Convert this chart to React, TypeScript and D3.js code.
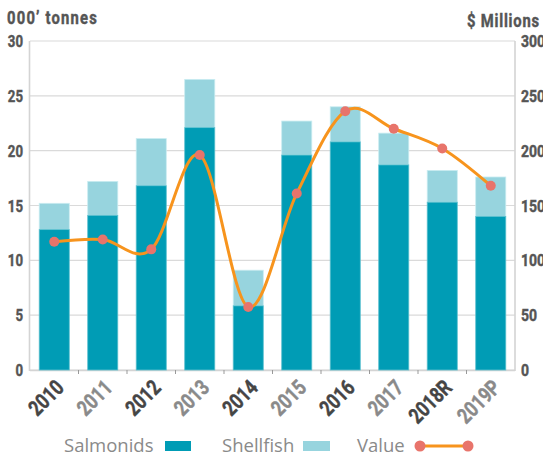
import * as d3 from "d3";
import React from "react";

const years = ["2010", "2011", "2012", "2013", "2014", "2015", "2016", "2017", "2018R", "2019P"];
const salmonids = [12.8, 14.1, 16.8, 22.1, 5.85, 19.6, 20.8, 18.7, 15.3, 14.0];
const totals = [15.2, 17.2, 21.1, 26.5, 9.1, 22.7, 24.0, 21.6, 18.2, 17.6];
const value = [117, 119, 110, 196, 57.5, 161, 236, 220, 202, 168];
const leftTicks = [0, 5, 10, 15, 20, 25, 30];
const rightTicks = [0, 50, 100, 150, 200, 250, 300];

const W = 543;
const H = 459;
const left = 30;
const right = 515;
const top = 41;
const bottom = 370;

const C_SALMON = "#009cb5";
const C_SHELL = "#97d4de";
const C_LINE = "#f7941d";
const C_DOT = "#e8746b";
const C_GRID = "#dadada";
const COND = "Roboto, 'Noto Sans', sans-serif";
const SANS = "'Open Sans', 'Noto Sans', sans-serif";

// condensed-looking text: Roboto squeezed horizontally
function CText(props: {
  x: number;
  y: number;
  rot?: number;
  sx?: number;
  size: number;
  anchor?: "start" | "end" | "middle";
  fill: string;
  children: React.ReactNode;
  ls?: number;
}) {
  const { x, y, rot = 0, sx = 0.78, size, anchor = "start", fill, children, ls = 0 } = props;
  return (
    <text
      transform={`translate(${x},${y}) rotate(${rot}) scale(${sx},1)`}
      textAnchor={anchor}
      fontFamily={COND}
      fontWeight="bold"
      fontSize={size}
      fill={fill}
      stroke={fill}
      strokeWidth={0.45}
      letterSpacing={ls}
    >
      {children}
    </text>
  );
}

export default function App() {
  const x = d3.scaleBand<string>().domain(years).range([left, right]).paddingInner(0.38).paddingOuter(0.19);
  const yL = d3.scaleLinear().domain([0, 30]).range([bottom, top]);
  const yR = d3.scaleLinear().domain([0, 300]).range([bottom, top]);
  const cx = (y: string) => x(y)! + x.bandwidth() / 2;
  const gap = (x.step() - x.bandwidth()) / 2;

  const line = d3
    .line<number>()
    .x((_, i) => cx(years[i]))
    .y((d) => yR(d))
    .curve(d3.curveCardinal.tension(0));

  return (
    <svg width={W} height={H} style={{ position: "absolute", left: 0, top: 0, background: "#fff" }}>
      {/* titles */}
      <CText x={7} y={24} size={18.5} fill="#555" sx={0.8} ls={1.5}>
        000’ tonnes
      </CText>
      <CText x={540} y={27} size={18.5} fill="#555" anchor="end" sx={0.8} ls={1}>
        $ Millions
      </CText>

      {/* grid */}
      {leftTicks.map((t) => (
        <line key={t} x1={left} x2={right} y1={yL(t)} y2={yL(t)} stroke={C_GRID} strokeWidth={1.2} />
      ))}
      <line x1={left - 0.5} x2={left - 0.5} y1={top} y2={bottom + 1} stroke="#d4d4d4" strokeWidth={1.6} />
      <line x1={right} x2={right} y1={top} y2={bottom + 1} stroke="#d4d4d4" strokeWidth={1.6} />
      <line x1={left} x2={right} y1={bottom + 0.5} y2={bottom + 0.5} stroke="#d4d4d4" strokeWidth={1.6} />
      {years.slice(1).map((y) => (
        <line key={y} x1={x(y)! - gap} x2={x(y)! - gap} y1={bottom} y2={bottom + 4} stroke="#999" strokeWidth={1} />
      ))}

      {/* axis labels */}
      {leftTicks.map((t) => (
        <CText key={t} x={23} y={yL(t) + 6} size={16.5} fill="#555" anchor="end" sx={0.8}>
          {t}
        </CText>
      ))}
      {rightTicks.map((t) => (
        <CText key={t} x={521} y={yR(t) + 6} size={16.5} fill="#555" sx={0.85}>
          {t}
        </CText>
      ))}

      {/* bars */}
      {years.map((y, i) => (
        <g key={y}>
          <rect x={x(y)} y={yL(totals[i])} width={x.bandwidth()} height={yL(salmonids[i]) - yL(totals[i])} fill={C_SHELL} stroke="#c9ecf1" strokeWidth={0.8} />
          <rect x={x(y)} y={yL(salmonids[i])} width={x.bandwidth()} height={yL(0) - yL(salmonids[i])} fill={C_SALMON} stroke="#5cc0cf" strokeWidth={0.8} />
        </g>
      ))}

      {/* value line */}
      <path d={line(value)!} fill="none" stroke={C_LINE} strokeWidth={3} strokeLinejoin="round" />
      {value.map((v, i) => (
        <circle key={i} cx={cx(years[i])} cy={yR(v)} r={5} fill={C_DOT} />
      ))}

      {/* x labels */}
      {years.map((y, i) => (
        <CText key={y} x={cx(y) + 11} y={bottom + 19} rot={-45} size={21.5} sx={0.8} anchor="end" fill={i % 2 === 0 ? "#454545" : "#8a8a8a"}>
          {y}
        </CText>
      ))}

      {/* legend */}
      <text x={64} y={452} fontFamily={SANS} fontSize={18.5} fill="#8a8a8a">Salmonids</text>
      <rect x={165} y={441} width={26} height={10} fill={C_SALMON} />
      <text x={222} y={452} fontFamily={SANS} fontSize={18.5} fill="#8a8a8a">Shellfish</text>
      <rect x={303} y={441} width={27} height={10} fill={C_SHELL} />
      <text x={357} y={452} fontFamily={SANS} fontSize={18.5} fill="#8a8a8a">Value</text>
      <line x1={420} x2={468} y1={446} y2={446} stroke={C_LINE} strokeWidth={3} />
      <circle cx={420} cy={446} r={5.5} fill={C_DOT} />
      <circle cx={468} cy={446} r={5.5} fill={C_DOT} />
    </svg>
  );
}
